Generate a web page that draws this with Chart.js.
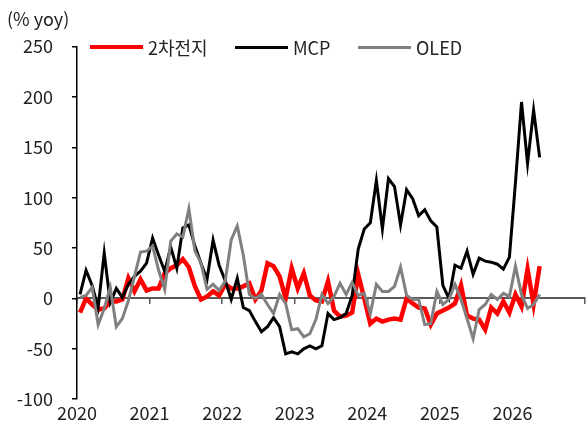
<!DOCTYPE html>
<html>
<head>
<meta charset="utf-8">
<script src="https://cdn.jsdelivr.net/npm/chart.js@4.4.0/dist/chart.umd.min.js"></script>
<style>
  html, body { margin: 0; padding: 0; background: #fff; }
  #wrap { position: relative; width: 588px; height: 429px; font-family: "Noto Sans CJK KR", "Noto Sans", sans-serif; }
  .legend { position: absolute; top: 36px; height: 22px; display: flex; align-items: center; font-size: 18px; color: #222; }
  .legend span.line { display: inline-block; width: 53px; margin-right: 5px; }
</style>
</head>
<body>
<div id="wrap">
  <canvas id="chart" width="588" height="429"></canvas>
  <div class="legend" style="left:90px"><span class="line" style="border-top:4px solid #ff0000"></span>2차전지</div>
  <div class="legend" style="left:235px"><span class="line" style="border-top:3px solid #000000"></span>MCP</div>
  <div class="legend" style="left:358px"><span class="line" style="border-top:3px solid #808080"></span>OLED</div>
</div>
<script>
// monthly yoy %, Jan 2020 .. May 2026
const startYear = 2020
const yTicks = [-100, -50, 0, 50, 100, 150, 200, 250]

const battery = [
  -14, 0, -6, -11, -10, -3, -3, -1, 20, 7, 19, 8,
  10, 10, 25, 30, 33, 39, 31, 12, -1, 2, 7, 3,
  14, 10, 10, 12, 15, -1, 8, 35, 32, 22, 0, 30,
  10, 25, 3, -2, -3, 17, -12, -18, -17, -14, 24, 0,
  -25, -20, -23, -21, -20, -21, 0, -5, -9, -10, -26, -15,
  -12, -9, -5, 13, -17, -20, -21, -31, -9, -15, -3, -14,
  4, -8, 29, -6, 32
]

const mcp = [
  4, 28, 13, -9, 45, -4, 10, 1, 14, 22, 27, 35,
  60, 43, 27, 51, 30, 70, 73, 52, 35, 19, 58, 33,
  18, -1, 20, -9, -12, -23, -33, -28, -19, -28, -55, -53,
  -55, -50, -47, -50, -47, -15, -21, -19, -15, 3, 49, 69,
  75, 117, 69, 119, 111, 73, 108, 99, 82, 88, 77, 71,
  13, 0, 33, 30, 47, 24, 40, 37, 36, 34, 29, 41,
  115, 195, 134, 187, 140
]

const oled = [
  1, 3, 11, -26, -10, 11, -28, -20, -2, 22, 46, 47,
  52, 28, 9, 57, 64, 61, 89, 47, 35, 9, 14, 8,
  17, 58, 72, 43, 4, 0, 4, -6, -15, 4, -5, -31,
  -30, -38, -35, -21, 4, -5, 2, 15, 4, 16, 3, 5,
  -15, 14, 7, 7, 12, 31, 3, -1, -1, -26, -25, 7,
  -6, -1, 14, -1, -20, -40, -11, -6, 4, -1, 5, 2,
  32, 4, -10, -6, 4
]

const months = battery.map((_, i) => `${startYear + Math.floor(i / 12)}-${String(i % 12 + 1).padStart(2, '0')}`)

// each monthly value sits mid-month on a linear month axis
const toPoints = arr => arr.map((v, i) => ({ x: i + 0.5, y: v }))

const FONT = { family: '"Noto Sans CJK KR", "Noto Sans", sans-serif', size: 18, weight: 'normal' }

new Chart(document.getElementById('chart'), {
  type: 'line',
  data: {
    labels: months,
    datasets: [
      { label: '2차전지', data: toPoints(battery), borderColor: '#ff0000', borderWidth: 4.5, order: 3 },
      { label: 'MCP', data: toPoints(mcp), borderColor: '#000000', borderWidth: 3, order: 2 },
      { label: 'OLED', data: toPoints(oled), borderColor: '#808080', borderWidth: 3, order: 1 }
    ]
  },
  options: {
    responsive: false,
    animation: false,
    elements: { point: { radius: 0 }, line: { tension: 0 } },
    layout: { padding: { top: 0, right: 1, bottom: 1, left: 7 } },
    plugins: {
      legend: { display: false },
      tooltip: { enabled: false },
      title: {
        display: true,
        text: '(% yoy)',
        align: 'start',
        color: '#222',
        font: FONT,
        padding: { top: 8, bottom: 17 }
      }
    },
    scales: {
      x: {
        type: 'linear',
        min: 0,
        max: 84,
        grid: { display: false, drawTicks: false },
        border: { display: false },
        ticks: {
          stepSize: 12,
          autoSkip: false,
          maxRotation: 0,
          padding: 3,
          color: '#222',
          font: FONT,
          callback: v => (v < 84 ? String(startYear + v / 12) : '')
        }
      },
      x2: {
        type: 'linear',
        position: { y: 0 },
        min: 0,
        max: 84,
        grid: { drawOnChartArea: false, drawTicks: true, tickLength: 5, color: '#595959', lineWidth: 1.5 },
        border: { display: true, color: '#595959', width: 2 },
        ticks: { stepSize: 12, display: false }
      },
      y: {
        min: yTicks[0],
        max: yTicks[yTicks.length - 1],
        afterFit: s => { s.width = 70 },
        afterBuildTicks: s => { s.ticks = yTicks.map(v => ({ value: v })) },
        grid: { drawOnChartArea: false, drawTicks: true, tickLength: 5, color: '#000', lineWidth: 1.5 },
        border: { display: true, color: '#000', width: 1.5 },
        ticks: { padding: 19, color: '#222', font: FONT }
      }
    }
  }
})
</script>
</body>
</html>
